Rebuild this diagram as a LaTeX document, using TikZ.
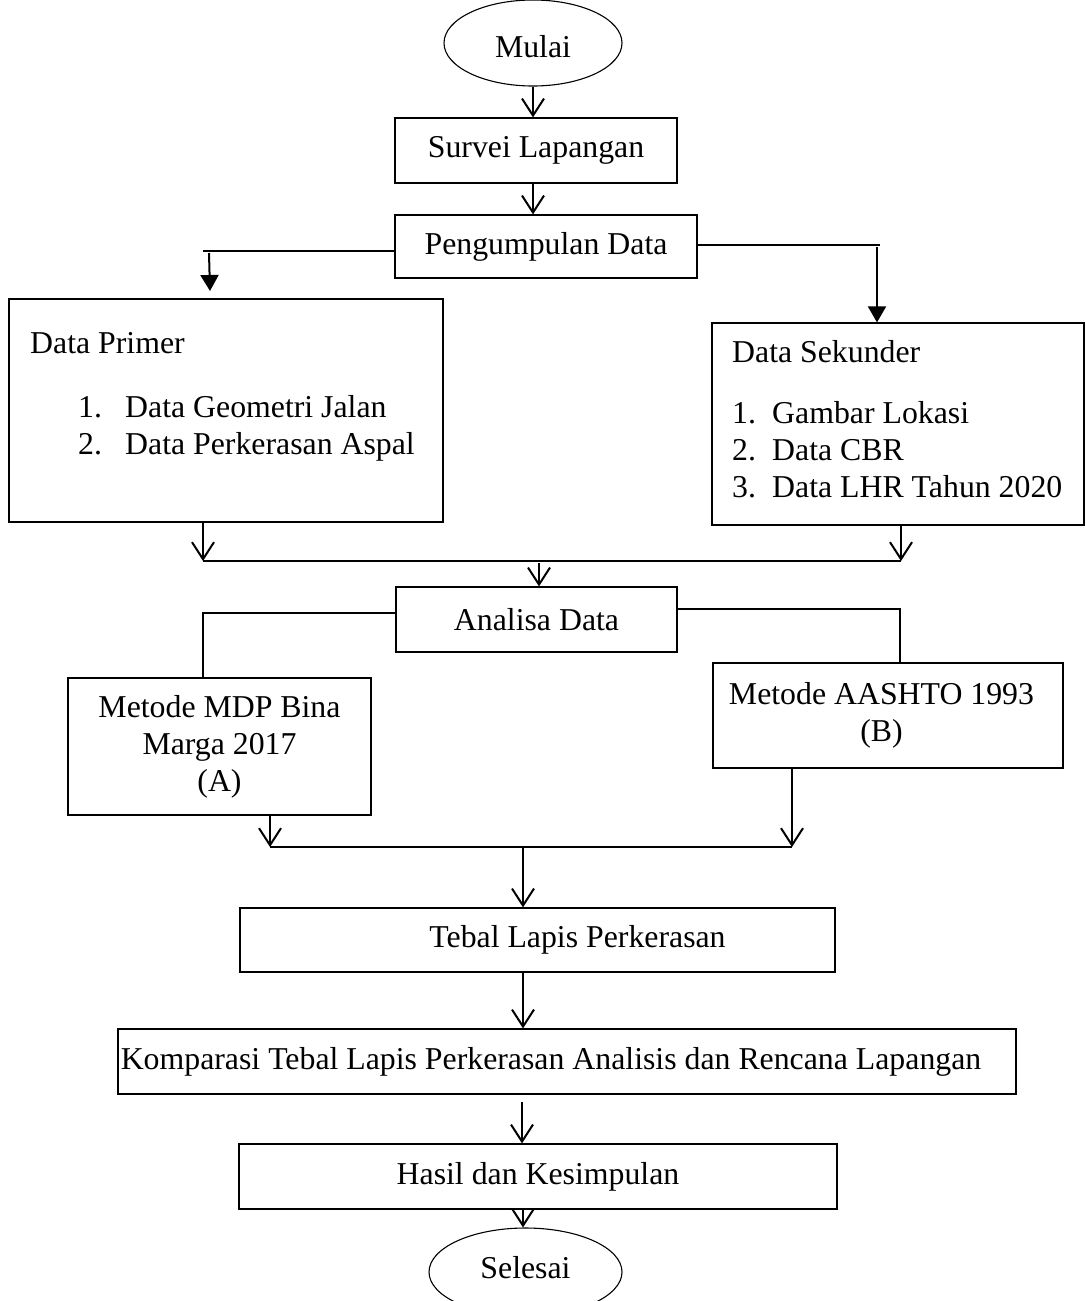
\documentclass[tikz,border=0pt]{standalone}
\usepackage{fontspec}
\setmainfont{Liberation Serif}
\usetikzlibrary{shapes.geometric,arrows.meta}
\begin{document}
\begin{tikzpicture}[x=1pt,y=-1pt,
  every node/.style={font=\fontsize{31.8}{37}\selectfont, inner sep=0pt},
  box/.style={draw, line width=1.2pt, rectangle, align=center},
  oval/.style={draw, line width=1.1pt, ellipse},
  conn/.style={line width=2pt},
  varr/.style={conn, -{Straight Barb[length=17pt,width=22pt]}},
  farr/.style={conn, -{Triangle[length=16pt,width=18pt]}},
  lst/.style={anchor=base west}]
\useasboundingbox (0,0) rectangle (1086,1301);

% nodes
\node[oval, minimum width=178pt, minimum height=86pt, text height=28pt, text depth=0pt] (mulai) at (533,43) {Mulai};
\node[box, minimum width=282pt, minimum height=65pt] (survei) at (536,150.5) {Survei Lapangan};
\node[box, minimum width=302pt, minimum height=63pt] (peng) at (546,246.5) {Pengumpulan Data};

\node[box, minimum width=434pt, minimum height=223pt] (primer) at (226,410.5) {};
\node[lst] (primerT) at (30,353) {Data Primer};
\node[lst] (p1n) at (78,417) {1.};
\node[lst] (p1) at (125,417) {Data Geometri Jalan};
\node[lst] (p2n) at (78,454) {2.};
\node[lst] (p2) at (125,454) {Data Perkerasan Aspal};

\node[box, minimum width=372pt, minimum height=202pt] (sekunder) at (898,424) {};
\node[lst] (sekT) at (732,362) {Data Sekunder};
\node[lst] (s1n) at (732,423) {1.};
\node[lst] (s1) at (772,423) {Gambar Lokasi};
\node[lst] (s2n) at (732,460) {2.};
\node[lst] (s2) at (772,460) {Data CBR};
\node[lst] (s3n) at (732,497) {3.};
\node[lst] (s3) at (772,497) {Data LHR Tahun 2020};

\node[box, minimum width=281pt, minimum height=65pt] (analisa) at (536.5,619.5) {Analisa Data};
\node[box, minimum width=303pt, minimum height=137pt] (mdp) at (219.5,746.5) {Metode MDP Bina\\Marga 2017\\(A)};
\node[box, minimum width=350pt, minimum height=105pt] (aashto) at (888,715.5) {Metode AASHTO 1993\hspace*{13pt}\\(B)\hspace*{13pt}};
\node[box, minimum width=595pt, minimum height=64pt] (tebal) at (537.5,940) {\hspace*{80pt}Tebal Lapis Perkerasan};
\node[box, minimum width=898pt, minimum height=65pt] (komp) at (567,1061.5) {Komparasi Tebal Lapis Perkerasan Analisis dan Rencana Lapangan\hspace*{32pt}};
\node[box, minimum width=598pt, minimum height=65pt] (hasil) at (538,1176.5) {Hasil dan Kesimpulan};
\node[oval, minimum width=193pt, minimum height=88pt, text depth=9pt] (selesai) at (525.5,1272) {Selesai};

% connectors
\draw[varr] (mulai.south) -- (mulai.south |- survei.north);
\coordinate (sx) at (533,0);
\draw[varr] (survei.south -| sx) -- (sx |- peng.north);

\coordinate (pl) at (203,251);
\coordinate (pla) at (209,253);
\coordinate (plb) at (210,291);
\draw[conn] (peng.west |- pl) -- (pl);
\draw[farr] (pla) -- (plb);

\coordinate (pr) at (880,245);
\coordinate (pra) at (877,247);
\draw[conn] (peng.east |- pr) -- (pr);
\draw[farr] (pra) -- (pra |- sekunder.north);

\coordinate (m1l) at (203,561);
\coordinate (m1r) at (901,561);
\coordinate (m1c) at (539,563);
\draw[varr] (primer.south -| m1l) -- (m1l);
\draw[varr] (sekunder.south -| m1r) -- (m1r);
\draw[conn] (m1l) -- (m1r);
\draw[varr] (m1c) -- (m1c |- analisa.north);

\coordinate (al) at (203,613);
\coordinate (ar) at (900,609);
\draw[conn] (analisa.west |- al) -- (al) -- (al |- mdp.north);
\draw[conn] (analisa.east |- ar) -- (ar) -- (ar |- aashto.north);

\coordinate (m2l) at (270,847);
\coordinate (m2r) at (792,847);
\coordinate (m2c) at (523,847);
\draw[varr] (mdp.south -| m2l) -- (m2l);
\draw[varr] (aashto.south -| m2r) -- (m2r);
\draw[conn] (m2l) -- (m2r);
\draw[varr] (m2c) -- (m2c |- tebal.north);

\coordinate (b1) at (523,0);
\coordinate (b2) at (522,1102);
\draw[varr] (tebal.south -| b1) -- (b1 |- komp.north);
\draw[varr] (b2) -- (b2 |- hasil.north);
\draw[varr] (hasil.south -| b1) -- (b1 |- selesai.north);
\end{tikzpicture}
\end{document}
